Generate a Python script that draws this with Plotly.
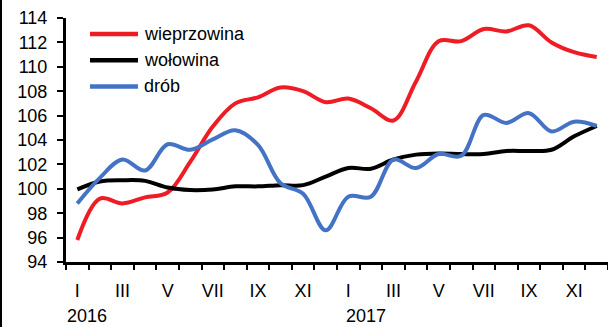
import plotly.graph_objects as go

# Miesiące (cyfry rzymskie) i lata
miesiace = ["I", "II", "III", "IV", "V", "VI", "VII", "VIII", "IX", "X", "XI", "XII"]
lata = ["2016", "2017"]

# Wskaźniki cen (okres poprzedni = 100)
wieprzowina = [95.8, 99.2, 98.8, 99.3, 99.7, 102.2, 105.1, 107.0, 107.5, 108.3, 108.0, 107.1,
               107.4, 106.6, 105.6, 108.8, 112.1, 112.1, 113.1, 112.9, 113.4, 112.0, 111.2, 110.8]
wolowina = [99.95, 100.6, 100.7, 100.65, 100.1, 99.9, 99.95, 100.2, 100.2, 100.3, 100.3, 101.0,
            101.7, 101.65, 102.4, 102.8, 102.9, 102.85, 102.85, 103.1, 103.1, 103.2, 104.3, 105.15]
drob = [98.8, 100.9, 102.4, 101.5, 103.65, 103.2, 104.05, 104.8, 103.6, 100.45, 99.6, 96.6,
        99.35, 99.35, 102.4, 101.7, 102.85, 102.7, 106.05, 105.4, 106.2, 104.7, 105.5, 105.15]

serie = [
    ("wieprzowina", wieprzowina, "#EE1C25"),
    ("wołowina", wolowina, "#000000"),
    ("drób", drob, "#4472C4"),
]

n = len(lata) * len(miesiace)
x = list(range(n))
etykiety_x = [miesiace[i % 12] for i in x]

FONT = "Liberation Sans, Arial, sans-serif"
W, H = 608, 327
M_L, M_R, M_T, M_B = 66, 0, 18, 65
PW, PH = W - M_L - M_R, H - M_T - M_B

fig = go.Figure()
for nazwa, wartosci, kolor in serie:
    fig.add_trace(go.Scatter(
        x=x, y=wartosci, name=nazwa, mode="lines",
        line=dict(color=kolor, width=4, shape="spline", smoothing=1),
        showlegend=False, hoverinfo="skip",
    ))

# Legenda: krótki odcinek linii + podpis, w lewym górnym rogu wykresu
leg_x0, leg_x1 = (90 - M_L) / PW, (138 - M_L) / PW
for k, (nazwa, _, kolor) in enumerate(serie):
    yy = 1 - (34 + 26.2 * k - M_T) / PH
    fig.add_shape(type="line", xref="paper", yref="paper",
                  x0=leg_x0, x1=leg_x1, y0=yy, y1=yy,
                  line=dict(color=kolor, width=4.5))
    fig.add_annotation(xref="paper", yref="paper", x=(142 - M_L) / PW, y=yy,
                       text=nazwa, showarrow=False, xanchor="left", yanchor="middle",
                       font=dict(family=FONT, size=18, color="#000000"))

# Podpisy lat pod osią
for j, rok in enumerate(lata):
    fig.add_annotation(xref="x", yref="paper", x=12 * j, y=-(315.5 - (H - M_B)) / PH,
                       xshift=10 if j == 0 else 18,
                       text=rok, showarrow=False, xanchor="center", yanchor="middle",
                       font=dict(family=FONT, size=18, color="#000000"))

# Ramka z lewej strony
fig.add_shape(type="line", xref="paper", yref="paper",
              x0=-(M_L - 1) / PW, x1=-(M_L - 1) / PW, y0=-M_B / PH, y1=1 + M_T / PH,
              line=dict(color="#000000", width=2))

fig.update_layout(
    width=W, height=H,
    margin=dict(l=M_L, r=M_R, t=M_T, b=M_B, pad=0),
    paper_bgcolor="#FFFFFF", plot_bgcolor="#FFFFFF",
    font=dict(family=FONT, size=18, color="#000000"),
)
fig.update_xaxes(
    range=[-0.5, n - 0.5], showgrid=False, zeroline=False,
    tickmode="array", tickvals=x[::2], ticktext=etykiety_x[::2],
    ticks="outside", ticklen=0, ticklabelstandoff=10,
    showline=True, linecolor="#000000", linewidth=3,
    minor=dict(ticks="outside", tick0=-0.5, dtick=1, ticklen=5, tickwidth=2,
               tickcolor="#000000", showgrid=False),
    tickfont=dict(family=FONT, size=18),
)
fig.update_yaxes(
    range=[94, 114], showgrid=False, zeroline=False,
    tickmode="linear", tick0=94, dtick=2,
    ticks="outside", ticklen=6, tickwidth=2, tickcolor="#000000",
    ticklabelstandoff=6,
    showline=True, linecolor="#000000", linewidth=3,
    tickfont=dict(family=FONT, size=18),
)

fig.write_html("out.html")
